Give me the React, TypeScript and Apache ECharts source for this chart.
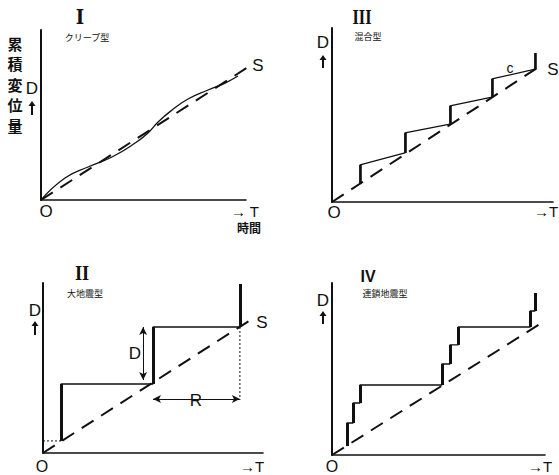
import React, { useEffect, useRef } from "react";
import * as echarts from "echarts";

// Panel I: creep type
const creepCurve: number[][] = [[0, 0], [11.7, 12.9], [22.9, 19.4], [34.6, 25.3], [45.9, 33.5], [52.2, 39.4], [57.1, 45.9], [63.9, 52.9], [71.7, 59.4], [81.5, 64.7], [89.8, 68.8], [96.1, 72.9]];
const creepTrend: number[][] = [[0, 0], [101, 78.2]];

// Panel III: mixed type
const mixedSteps: number[][] = [[12.7, 10.3], [12.7, 21.3], [33.0, 28.2], [33.0, 39.7], [53.4, 44.8], [53.4, 55.2], [72.4, 60.3], [72.4, 70.7], [91.9, 76.4], [91.9, 85.6]];
const mixedTrend: number[][] = [[0, 0], [92.8, 77.0]];

// Panel II: great earthquake type
const greatSteps: number[][] = [[8.2, 7.1], [8.2, 40.6], [50, 40.6], [50, 74.1], [89.5, 74.1], [89.5, 99.4]];
const greatTrend: number[][] = [[0, 0], [96.4, 80]];
const greatStartDotted: number[][] = [[0, 7.1], [8.2, 7.1]];
const greatRDotted: number[][] = [[89.5, 74.1], [89.5, 31.2]];
const greatRArrow: number[][] = [[50, 31.8], [89.5, 31.8]];
const greatDArrow: number[][] = [[45.5, 42.9], [45.5, 74.1]];

// Panel IV: chain earthquake type
const chainSteps: number[][] = [[7.0, 5.2], [7.0, 18.6], [9.9, 18.6], [9.9, 30.2], [13.1, 30.2], [13.1, 40.7], [51.6, 40.7], [51.6, 52.9], [55.4, 52.9], [55.4, 64.0], [59.2, 64.0], [59.2, 74.4], [93.0, 74.4], [93.0, 83.7], [95.3, 83.7], [95.3, 94.2]];
const chainTrend: number[][] = [[0, 0], [99.1, 77.3]];

const jumpsOf = (pts: number[][]) => {
  const out: { coords: number[][] }[] = [];
  for (let i = 0; i < pts.length - 1; i++) {
    if (pts[i][0] === pts[i + 1][0]) out.push({ coords: [pts[i], pts[i + 1]] });
  }
  return out;
};

const CJK = "'Noto Sans CJK JP', sans-serif";
const SANS = "'Liberation Sans', Arial, sans-serif";
const SERIF = "'DejaVu Serif', 'Liberation Serif', serif";

const txt = (text: string, x: number, y: number, size: number, opts: any = {}) => ({
  type: "text",
  x,
  y,
  scaleX: opts.scaleX || 1,
  silent: true,
  style: {
    text,
    fontSize: size,
    fontFamily: opts.family || SANS,
    fontWeight: opts.weight || "normal",
    fill: "#111",
    align: "center",
    verticalAlign: "middle",
    textAlign: "center",
    textVerticalAlign: "middle",
    lineHeight: opts.lineHeight,
    backgroundColor: opts.bg,
  },
});

const upArrow = (x: number, yTop: number, yBottom: number) => ({
  type: "group",
  silent: true,
  children: [
    { type: "line", shape: { x1: x, y1: yTop + 4, x2: x, y2: yBottom }, style: { stroke: "#111", lineWidth: 2 } },
    { type: "polygon", shape: { points: [[x - 3.5, yTop + 5], [x + 3.5, yTop + 5], [x, yTop]] }, style: { fill: "#111" } },
  ],
});

export default function App() {
  const ref = useRef<HTMLDivElement>(null);
  useEffect(() => {
    if (!ref.current) return;
    const chart = echarts.init(ref.current, null, { renderer: "svg" });
    const grids = [
      { left: 41, top: 30, width: 205, height: 170 },
      { left: 332, top: 28, width: 221, height: 174 },
      { left: 43, top: 283, width: 220, height: 170 },
      { left: 332, top: 283, width: 213, height: 172 },
    ];
    const axisBase = {
      type: "value",
      min: 0,
      max: 100,
      axisLine: { show: true, onZero: false, lineStyle: { color: "#111", width: 1.6 } },
      axisTick: { show: false },
      axisLabel: { show: false },
      splitLine: { show: false },
    };
    const xAxis = grids.map((_, i) => ({ ...axisBase, gridIndex: i }));
    const yAxis = grids.map((_, i) => ({ ...axisBase, gridIndex: i, axisLine: { ...axisBase.axisLine, lineStyle: { color: "#111", width: 2 } } }));

    const dashed = (data: number[][], i: number) => ({
      type: "line",
      xAxisIndex: i,
      yAxisIndex: i,
      data,
      symbol: "none",
      clip: false,
      lineStyle: { color: "#111", width: 2, type: [14, 9] },
    });
    const solid = (data: number[][], i: number, smooth = false, width = 1.3) => ({
      type: "line",
      xAxisIndex: i,
      yAxisIndex: i,
      data,
      symbol: "none",
      smooth,
      clip: false,
      lineStyle: { color: "#111", width },
    });
    const jumps = (pts: number[][], i: number, width: number) => ({
      type: "lines",
      coordinateSystem: "cartesian2d",
      xAxisIndex: i,
      yAxisIndex: i,
      polyline: false,
      data: jumpsOf(pts),
      lineStyle: { color: "#111", width, opacity: 1 },
      clip: false,
    });
    const dotted = (data: number[][], i: number) => ({
      type: "line",
      xAxisIndex: i,
      yAxisIndex: i,
      data,
      symbol: "none",
      clip: false,
      lineStyle: { color: "#111", width: 1, type: [2, 2] },
    });
    const arrow = (data: number[][], i: number) => ({
      type: "line",
      xAxisIndex: i,
      yAxisIndex: i,
      data: [],
      symbol: "none",
      markLine: {
        silent: true,
        symbol: ["arrow", "arrow"],
        symbolSize: [6, 8],
        label: { show: false },
        lineStyle: { color: "#111", width: 1, type: "solid" },
        data: [[{ coord: data[0] }, { coord: data[1] }]],
      },
    });

    const series = [
      dashed(creepTrend, 0),
      solid(creepCurve, 0, true, 1.3),
      dashed(mixedTrend, 1),
      solid(mixedSteps, 1, false, 1.3),
      jumps(mixedSteps, 1, 2.6),
      dashed(greatTrend, 2),
      solid(greatSteps, 2, false, 1.4),
      jumps(greatSteps, 2, 3),
      dotted(greatStartDotted, 2),
      dotted(greatRDotted, 2),
      arrow(greatRArrow, 2),
      arrow(greatDArrow, 2),
      dashed(chainTrend, 3),
      solid(chainSteps, 3, false, 1.4),
      jumps(chainSteps, 3, 3),
    ];

    const graphic = [
      // Panel I
      txt("I", 80, 17, 20, { family: SERIF, weight: "bold", scaleX: 0.9 }),
      txt("クリープ型", 87, 37, 9, { family: CJK }),
      txt("累\n積\n変\n位\n量", 15, 84, 15, { family: CJK, weight: "bold", lineHeight: 20.5 }),
      txt("D", 32, 88, 17),
      upArrow(32, 101, 115),
      txt("S", 258, 65, 17),
      txt("O", 46, 211, 17),
      txt("→ T", 245, 211, 15),
      txt("時間", 249, 227, 12, { family: CJK, weight: "bold" }),
      // Panel III
      txt("III", 362, 18, 18, { family: SERIF, weight: "bold", scaleX: 0.75 }),
      txt("混合型", 368, 36, 9, { family: CJK }),
      txt("D", 323, 42, 17),
      upArrow(323, 55, 68),
      txt("O", 334, 212, 17),
      txt("→T", 546, 211, 15),
      txt("S", 553, 69, 17),
      txt("c", 510, 68, 14),
      // Panel II
      txt("II", 82, 273, 19, { family: SERIF, weight: "bold", scaleX: 0.8 }),
      txt("大地震型", 85, 293, 9, { family: CJK }),
      txt("D", 35, 310, 17),
      upArrow(35, 321, 335),
      txt("O", 42, 466, 16),
      txt("→T", 252, 466, 15),
      txt("S", 262, 322, 17),
      txt("D", 135, 353, 17),
      txt("R", 196, 400, 17, { bg: "#fff" }),
      // Panel IV
      txt("IV", 368, 276, 16, { weight: "bold" }),
      txt("連鎖地震型", 385, 293, 9, { family: CJK }),
      txt("D", 323, 300, 17),
      upArrow(323, 311, 324),
      txt("O", 332, 466, 16),
      txt("→T", 540, 466, 15),
    ];

    chart.setOption({
      animation: false,
      backgroundColor: "#fff",
      grid: grids,
      xAxis,
      yAxis,
      series,
      graphic,
    } as any);
    return () => chart.dispose();
  }, []);
  return <div ref={ref} style={{ position: "fixed", left: 0, top: 0, width: 559, height: 475 }} />;
}
